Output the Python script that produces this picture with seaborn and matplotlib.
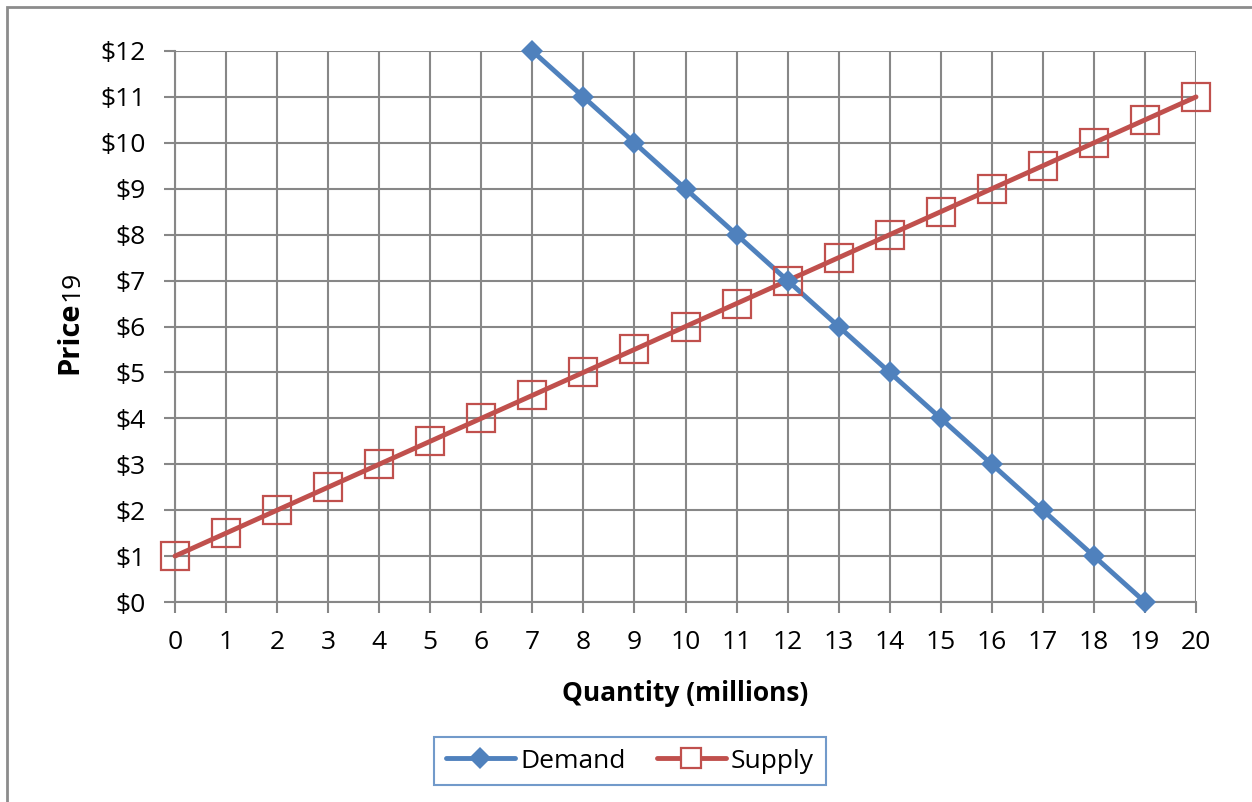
import numpy as np
import pandas as pd
import seaborn as sns
import matplotlib.pyplot as plt
from matplotlib.lines import Line2D
from matplotlib.patches import Rectangle

# data
demand_qty = [7, 8, 9, 10, 11, 12, 13, 14, 15, 16, 17, 18, 19]
demand_price = [12, 11, 10, 9, 8, 7, 6, 5, 4, 3, 2, 1, 0]
supply_qty = list(range(0, 21))
supply_price = [1, 1.5, 2, 2.5, 3, 3.5, 4, 4.5, 5, 5.5, 6, 6.5, 7, 7.5, 8,
                8.5, 9, 9.5, 10, 10.5, 11]
x_ticks = list(range(0, 21))
y_ticks = list(range(0, 13))
y_tick_labels = [f"${v}" for v in y_ticks]

blue = "#4f81bd"
red = "#c0504d"
grid_col = "#878787"
fs = 19

sns.set_style("white")
plt.rcParams["font.family"] = ["Open Sans", "DejaVu Sans"]
plt.rcParams["text.color"] = "black"

fig = plt.figure(figsize=(12.52, 8.02), dpi=100)
ax = fig.add_axes([175 / 1252, 1 - 602 / 802, (1196 - 175) / 1252, (602 - 51) / 802])

df_d = pd.DataFrame({"q": demand_qty, "p": demand_price})
df_s = pd.DataFrame({"q": supply_qty, "p": supply_price})

sns.lineplot(data=df_d, x="q", y="p", ax=ax, color=blue, linewidth=3.5,
             marker="D", markersize=11, markeredgewidth=0, zorder=4, clip_on=False)
sns.lineplot(data=df_s, x="q", y="p", ax=ax, color=red, linewidth=3.5, zorder=3,
             clip_on=False)
sns.lineplot(data=df_s, x="q", y="p", ax=ax, color=red, linestyle="none",
             marker="s", markersize=20, markerfacecolor="none",
             markeredgecolor=red, markeredgewidth=1.6, zorder=5, clip_on=False)

ax.set_xlim(0, 20)
ax.set_ylim(0, 12)
ax.set_xticks(x_ticks)
ax.set_yticks(y_ticks)
ax.set_yticklabels(y_tick_labels)
ax.grid(True, color=grid_col, linewidth=1.5)
ax.set_axisbelow(True)
for side in ["top", "right"]:
    ax.spines[side].set_visible(False)
for side in ["left", "bottom"]:
    ax.spines[side].set_color(grid_col)
    ax.spines[side].set_linewidth(1.5)
ax.tick_params(axis="both", which="both", length=8, width=1.5, color=grid_col,
               labelsize=fs, direction="out", left=True, bottom=True,
               labelcolor="black")
ax.tick_params(axis="y", pad=13)
ax.tick_params(axis="x", pad=12)

ax.set_xlabel("Quantity (millions)", fontsize=fs, fontweight="bold", labelpad=18,
              color="black")
ax.set_ylabel("")

# y label: bold "Price" followed by plain "19"
price_txt = fig.text(70 / 1252, 1 - 374 / 802, "Price", rotation=90, fontsize=21,
                     fontweight="bold", ha="center", va="bottom")
ax.annotate("19", xy=(0.56, 1.0), xycoords=price_txt, rotation=90, fontsize=fs,
            ha="center", va="bottom", annotation_clip=False)

handles = [
    Line2D([], [], color=blue, linewidth=3.5, marker="D", markersize=11,
           markeredgewidth=0),
    Line2D([], [], color=red, linewidth=3.5, marker="s", markersize=14,
           markerfacecolor="white", markeredgecolor=red, markeredgewidth=1.6),
]
leg = fig.legend(handles, ["Demand", "Supply"], loc="center",
                 bbox_to_anchor=(630 / 1252, 1 - 761 / 802), ncol=2,
                 fontsize=fs, frameon=True, fancybox=False, handlelength=2.6,
                 handletextpad=0.2, columnspacing=1.2, borderpad=0.45)
leg.get_frame().set_edgecolor(blue)
leg.get_frame().set_linewidth(1.5)

# outer chart border (left and top visible)
fig.patches.append(Rectangle((6.5 / 1252, -0.1), 1.2, 1.1 - 6.5 / 802,
                             transform=fig.transFigure, fill=False,
                             edgecolor="#8c8c8c", linewidth=2, zorder=0))

fig.savefig("out.png", dpi=100)
